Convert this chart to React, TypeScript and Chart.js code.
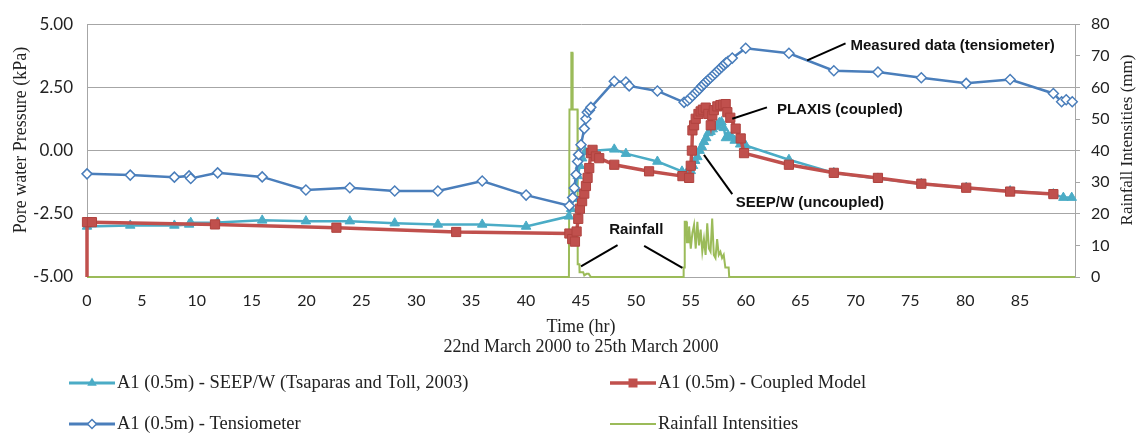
import React, { useEffect, useRef } from "react";
import { Chart, registerables } from "chart.js";

Chart.register(...registerables);

// ---------------- data ----------------
const seriesLabels = [
  "A1 (0.5m) - SEEP/W (Tsaparas and Toll, 2003)",
  "A1 (0.5m) - Coupled Model",
  "A1 (0.5m) - Tensiometer",
  "Rainfall Intensities",
];

const xTicks = [0, 5, 10, 15, 20, 25, 30, 35, 40, 45, 50, 55, 60, 65, 70, 75, 80, 85];

const tensX = [0, 3.94, 7.96, 9.3, 9.45, 11.9, 15.96, 19.94, 23.94, 28.03, 31.96, 36.0, 40.0, 43.94, 44.24, 44.39, 44.55, 44.69, 44.78, 45.0, 45.3, 45.45, 45.57, 45.76, 45.9, 48.03, 49.09, 49.39, 51.96, 54.39, 54.69, 54.9, 55.15, 55.4, 55.6, 55.8, 56.0, 56.2, 56.4, 56.6, 56.8, 57.0, 57.2, 57.4, 57.6, 57.8, 58.0, 58.18, 58.4, 58.78, 60.0, 63.94, 68.03, 72.05, 76.0, 80.09, 84.09, 88.03, 88.78, 89.2, 89.75];
const tensY = [-0.92, -0.97, -1.05, -1.0, -1.1, -0.88, -1.04, -1.56, -1.47, -1.6, -1.6, -1.2, -1.76, -2.18, -1.86, -1.48, -0.95, -0.43, -0.16, 0.23, 0.87, 1.26, 1.52, 1.6, 1.71, 2.74, 2.71, 2.56, 2.36, 1.91, 1.97, 2.05, 2.17, 2.27, 2.36, 2.45, 2.55, 2.63, 2.72, 2.8, 2.88, 2.96, 3.05, 3.13, 3.22, 3.3, 3.38, 3.46, 3.53, 3.66, 4.05, 3.85, 3.16, 3.11, 2.88, 2.66, 2.81, 2.26, 1.93, 2.01, 1.93];

const seepX = [0, 3.94, 7.96, 9.3, 9.45, 11.9, 15.96, 19.94, 23.94, 28.03, 31.96, 36.0, 40.0, 43.9, 44.1, 44.3, 44.5, 44.7, 44.9, 45.1, 45.4, 45.76, 48.03, 49.09, 51.96, 54.2, 54.6, 55.0, 55.2, 55.4, 55.6, 55.8, 56.0, 56.2, 56.4, 56.6, 56.8, 57.0, 57.2, 57.4, 57.6, 57.8, 58.0, 58.2, 58.4, 58.7, 59.0, 59.5, 60.0, 63.94, 68.03, 72.05, 76.0, 80.09, 84.09, 88.03, 88.94, 89.7];
const seepY = [-3.0, -2.96, -2.96, -2.92, -2.85, -2.84, -2.76, -2.79, -2.79, -2.87, -2.92, -2.92, -3.0, -2.6, -2.3, -1.9, -1.5, -1.0, -0.6, -0.3, -0.05, -0.02, 0.05, -0.12, -0.43, -0.82, -0.9, -0.8, -0.6, -0.4, -0.25, 0.0, 0.15, 0.35, 0.5, 0.7, 0.75, 0.85, 0.95, 1.0, 1.1, 1.13, 0.9, 0.5, 0.6, 0.55, 0.4, 0.25, 0.2, -0.36, -0.88, -1.1, -1.31, -1.47, -1.6, -1.72, -1.86, -1.86];

const coupledX = [0, 0, 0.45, 11.66, 22.72, 33.63, 43.94, 44.2, 44.45, 44.6, 44.75, 44.9, 45.1, 45.3, 45.45, 45.6, 45.75, 45.9, 46.05, 46.36, 46.66, 48.03, 51.2, 54.24, 54.85, 55.0, 55.1, 55.15, 55.3, 55.45, 55.7, 55.9, 56.1, 56.36, 56.6, 56.82, 56.96, 57.1, 57.42, 57.7, 57.95, 58.18, 58.33, 58.6, 59.09, 59.55, 59.85, 63.94, 68.03, 72.05, 76.0, 80.09, 84.09, 88.03];
const coupledY = [-5, -2.83, -2.83, -2.92, -3.05, -3.22, -3.28, -3.5, -3.6, -3.2, -2.7, -2.3, -2.0, -1.7, -1.4, -1.08, -0.69, -0.1, 0.03, -0.23, -0.3, -0.56, -0.82, -1.01, -1.08, -0.6, 0.0, 0.8, 1.0, 1.26, 1.45, 1.55, 1.62, 1.7, 1.45, 1.0, 1.39, 1.6, 1.75, 1.8, 1.82, 1.84, 1.52, 1.3, 0.87, 0.48, -0.1, -0.56, -0.88, -1.08, -1.31, -1.47, -1.62, -1.72];

const rainX = [0, 43.9, 43.95, 44.1, 44.12, 44.22, 44.24, 44.68, 44.7, 44.85, 44.87, 45.2, 45.3, 45.5, 45.7, 45.9, 54.3, 54.35, 54.4, 54.45, 54.6, 54.65, 54.8, 54.85, 55.0, 55.15, 55.3, 55.45, 55.6, 55.75, 55.9, 56.05, 56.2, 56.35, 56.5, 56.65, 56.8, 56.95, 57.1, 57.25, 57.4, 57.55, 57.7, 57.85, 58.0, 58.15, 58.45, 58.5, 90];
const rainY = [0, 0, 53, 53, 71, 71, 53, 53, 4, 4, 1.5, 1.5, 0.5, 1, 1, 0, 0, 3, 3, 17.5, 17.5, 11, 11, 16, 9, 14, 16.5, 9, 17.5, 10, 15, 8, 12, 7, 17, 9, 8, 18.5, 7, 6, 12, 7, 8, 6, 7, 3, 3, 0, 0];

// annotations (in data units: hours, kPa)
const noteTexts = ["Measured data (tensiometer)", "PLAXIS (coupled)", "SEEP/W (uncoupled)", "Rainfall"];
const noteX = [69.55, 62.85, 59.1, 47.57];
const noteY = [4.15, 1.62, -2.05, -3.15];
const leaderX1 = [65.6, 58.78, 56.2, 48.33, 50.75];
const leaderY1 = [3.57, 1.26, -0.17, -3.74, -3.77];
const leaderX2 = [69.1, 61.94, 58.78, 45.0, 54.24];
const leaderY2 = [4.24, 1.71, -1.72, -4.58, -4.64];

// ---------------- styling ----------------
const TEAL = "#4BACC6";
const RED = "#C0504D";
const BLUE = "#4A7EBB";
const GREEN = "#9BBB59";
const GRID = "#A6A6A6";
const TXT = "#222222";
const SERIF = '"Liberation Serif", "Times New Roman", serif';
const SANS = 'Lato, "Liberation Sans", sans-serif';
const BOLD = '"Liberation Sans", Arial, sans-serif';

function drawMarker(ctx: CanvasRenderingContext2D, kind: string, x: number, y: number, color: string) {
  ctx.save();
  ctx.fillStyle = color;
  ctx.strokeStyle = color;
  ctx.beginPath();
  if (kind === "triangle") {
    const r = 5.5;
    ctx.moveTo(x, y - r);
    ctx.lineTo(x + r * 0.866, y + r * 0.5);
    ctx.lineTo(x - r * 0.866, y + r * 0.5);
    ctx.closePath();
    ctx.fill();
  } else if (kind === "rect") {
    ctx.rect(x - 4.5, y - 4.5, 9, 9);
    ctx.fill();
  } else if (kind === "diamond") {
    const r = 4.5;
    ctx.moveTo(x, y - r);
    ctx.lineTo(x + r, y);
    ctx.lineTo(x, y + r);
    ctx.lineTo(x - r, y);
    ctx.closePath();
    ctx.fillStyle = "#fff";
    ctx.fill();
    ctx.lineWidth = 1.5;
    ctx.stroke();
  }
  ctx.restore();
}

const overlayPlugin = {
  id: "overlay",
  afterDatasetsDraw(chart: any) {
    const ctx = chart.ctx as CanvasRenderingContext2D;
    const xs = chart.scales.x;
    const ys = chart.scales.y;
    ctx.save();
    ctx.strokeStyle = "#000";
    ctx.lineWidth = 2;
    for (let i = 0; i < leaderX1.length; i++) {
      ctx.beginPath();
      ctx.moveTo(xs.getPixelForValue(leaderX1[i]), ys.getPixelForValue(leaderY1[i]));
      ctx.lineTo(xs.getPixelForValue(leaderX2[i]), ys.getPixelForValue(leaderY2[i]));
      ctx.stroke();
    }
    ctx.fillStyle = "#111";
    ctx.font = `bold 15px ${BOLD}`;
    ctx.textAlign = "left";
    ctx.textBaseline = "middle";
    for (let i = 0; i < noteTexts.length; i++) {
      ctx.fillText(noteTexts[i], xs.getPixelForValue(noteX[i]), ys.getPixelForValue(noteY[i]));
    }
    ctx.restore();
  },
  afterDraw(chart: any) {
    const ctx = chart.ctx as CanvasRenderingContext2D;
    const area = chart.chartArea;
    const midX = (area.left + area.right) / 2;
    const midY = 140;
    ctx.save();
    ctx.fillStyle = TXT;
    ctx.textBaseline = "middle";
    ctx.textAlign = "center";
    // axis titles
    ctx.font = `18px ${SERIF}`;
    ctx.fillText("Time (hr)", midX, 327);
    ctx.fillText("22nd March 2000 to 25th March 2000", midX, 347);
    ctx.save();
    ctx.translate(21, midY);
    ctx.rotate(-Math.PI / 2);
    ctx.fillText("Pore water Pressure (kPa)", 0, 0);
    ctx.restore();
    ctx.save();
    ctx.font = `17px ${SERIF}`;
    ctx.translate(1128, midY);
    ctx.rotate(-Math.PI / 2);
    ctx.fillText("Rainfall Intensities (mm)", 0, 0);
    ctx.restore();

    // legend
    const ds = chart.data.datasets;
    const cols = [69, 610];
    const rows = [383, 424];
    const items = [
      { i: 0, c: 0, r: 0, m: "triangle", col: TEAL, w: 3 },
      { i: 1, c: 1, r: 0, m: "rect", col: RED, w: 3.5 },
      { i: 2, c: 0, r: 1, m: "diamond", col: BLUE, w: 3 },
      { i: 3, c: 1, r: 1, m: "", col: GREEN, w: 2 },
    ];
    ctx.font = `18.5px ${SERIF}`;
    ctx.textAlign = "left";
    for (const it of items) {
      const x0 = cols[it.c];
      const y0 = rows[it.r];
      ctx.strokeStyle = it.col;
      ctx.lineWidth = it.w;
      ctx.beginPath();
      ctx.moveTo(x0, y0);
      ctx.lineTo(x0 + 46, y0);
      ctx.stroke();
      if (it.m) drawMarker(ctx, it.m, x0 + 23, y0, it.col);
      ctx.fillStyle = TXT;
      ctx.fillText(ds[it.i].label, x0 + 48, y0);
    }
    ctx.restore();
  },
};

const pts = (xs: number[], ys: number[]) => xs.map((x, i) => ({ x, y: ys[i] }));

export default function App() {
  const ref = useRef<HTMLCanvasElement>(null);
  useEffect(() => {
    const canvas = ref.current;
    if (!canvas) return;
    const chart = new Chart(canvas, {
      type: "line",
      data: {
        datasets: [
          {
            label: seriesLabels[0],
            data: pts(seepX, seepY),
            yAxisID: "y",
            borderColor: TEAL,
            backgroundColor: TEAL,
            borderWidth: 2.5,
            pointStyle: "triangle",
            pointRadius: 5.5,
            pointBackgroundColor: TEAL,
            pointBorderColor: TEAL,
            pointBorderWidth: 1,
            order: 2,
            clip: 12,
          },
          {
            label: seriesLabels[1],
            data: pts(coupledX, coupledY),
            yAxisID: "y",
            borderColor: RED,
            backgroundColor: RED,
            borderWidth: 3.5,
            pointStyle: "rect",
            pointRadius: (c: any) => (c.dataIndex === 0 ? 0 : 6.5),
            pointBackgroundColor: RED,
            pointBorderColor: "#B0433F",
            pointBorderWidth: 1,
            order: 1,
            clip: 12,
          },
          {
            label: seriesLabels[2],
            data: pts(tensX, tensY),
            yAxisID: "y",
            borderColor: BLUE,
            backgroundColor: "#ffffff",
            borderWidth: 2.5,
            pointStyle: "rectRot",
            pointRadius: 5,
            pointBackgroundColor: "#ffffff",
            pointBorderColor: BLUE,
            pointBorderWidth: 1.5,
            order: 0,
            clip: 12,
          },
          {
            label: seriesLabels[3],
            data: pts(rainX, rainY),
            yAxisID: "y2",
            borderColor: GREEN,
            backgroundColor: GREEN,
            borderWidth: 2,
            pointRadius: 0,
            order: 3,
            clip: 4,
          },
        ],
      },
      options: {
        responsive: false,
        animation: false,
        devicePixelRatio: 1,
        layout: { padding: { top: 20, left: 0, right: 0, bottom: 0 } },
        plugins: { legend: { display: false }, tooltip: { enabled: false } },
        elements: { line: { tension: 0 } },
        scales: {
          x: {
            type: "linear",
            position: "bottom",
            min: 0,
            max: 90,
            afterBuildTicks: (s: any) => {
              s.ticks = xTicks.map((v) => ({ value: v }));
            },
            ticks: {
              stepSize: 5,
              autoSkip: false,
              maxRotation: 0,
              padding: 14,
              color: TXT,
              font: { family: SANS, size: 16 },
            },
            grid: { display: false, drawTicks: false },
            border: { display: true, color: GRID, width: 1 },
            afterFit: (s: any) => {
              s.height = 159;
            },
          },
          y: {
            type: "linear",
            position: "left",
            min: -5,
            max: 5,
            ticks: {
              stepSize: 2.5,
              padding: 14,
              color: TXT,
              font: { family: SANS, size: 17 },
              callback: (v: any) => Number(v).toFixed(2),
            },
            grid: { color: GRID, lineWidth: 1, drawTicks: false },
            border: { display: true, color: GRID, width: 1 },
            afterFit: (s: any) => {
              s.width = 87;
            },
          },
          y2: {
            type: "linear",
            position: "right",
            min: 0,
            max: 80,
            ticks: {
              stepSize: 10,
              padding: 11,
              color: TXT,
              font: { family: SANS, size: 16 },
            },
            grid: { drawOnChartArea: false, drawTicks: true, tickLength: 5, color: GRID },
            border: { display: true, color: GRID, width: 1 },
            afterFit: (s: any) => {
              s.width = 69;
            },
          },
        },
      },
      plugins: [overlayPlugin],
    } as any);
    return () => chart.destroy();
  }, []);
  return (
    <canvas
      ref={ref}
      width={1144}
      height={436}
      style={{ position: "absolute", left: 0, top: 0, width: 1144, height: 436 }}
    />
  );
}
